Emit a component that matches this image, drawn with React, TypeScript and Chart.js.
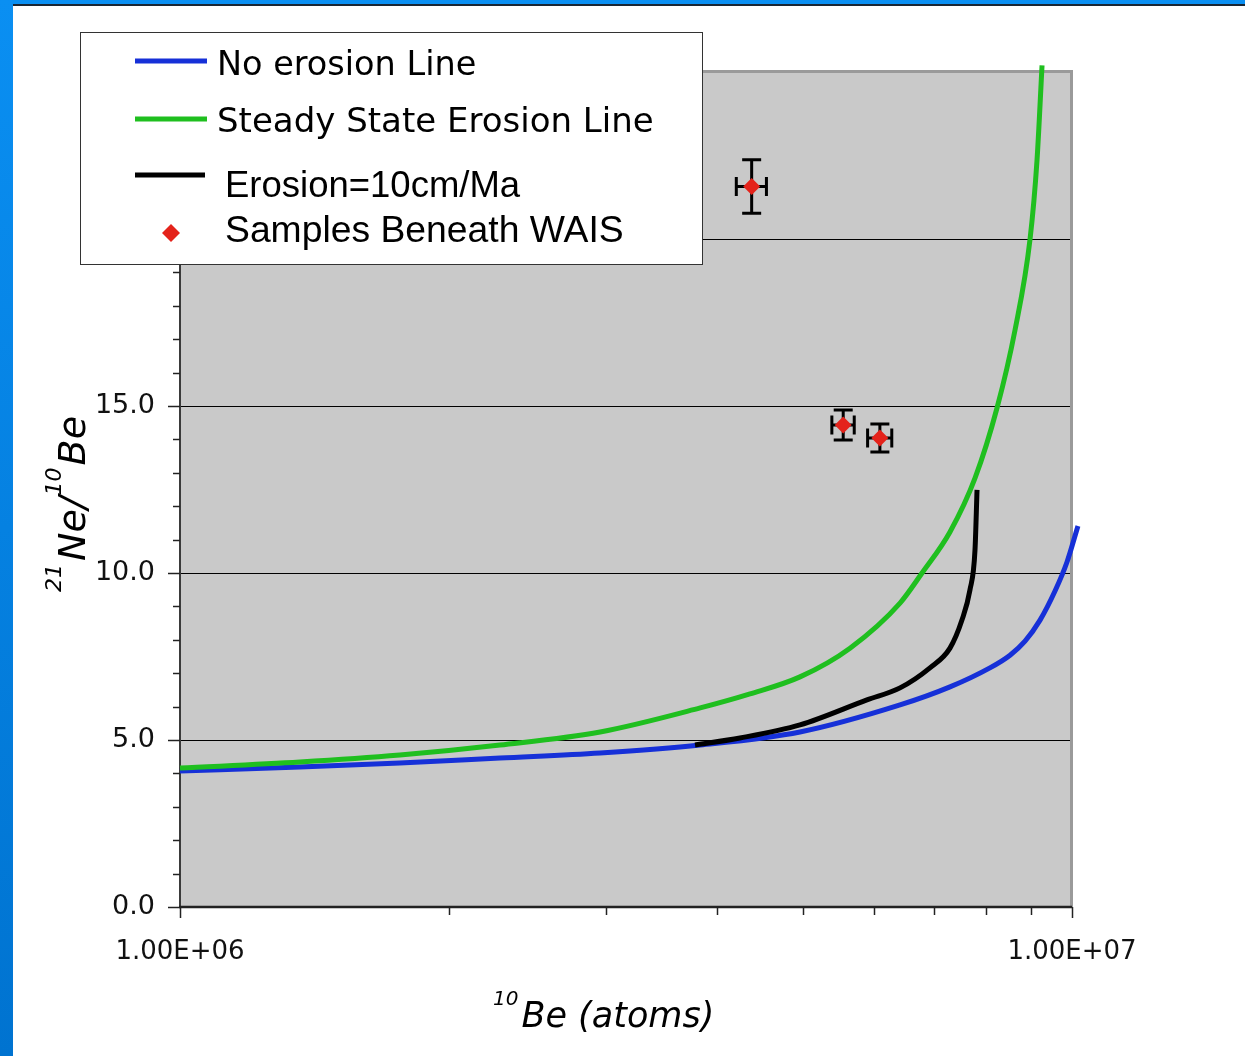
import React, { useEffect, useRef } from "react";
import { Chart, registerables } from "chart.js";
Chart.register(...registerables);

// ---- data ----
const noErosionX = [1.0e6, 1.363e6, 1.764e6, 2.284e6, 2.958e6, 3.83e6, 4.955e6, 6.415e6, 7.298e6, 8.09e6, 8.522e6, 8.858e6, 9.208e6, 9.571e6, 9.872e6, 1.0155e7];
const noErosionY = [4.07, 4.19, 4.31, 4.46, 4.61, 4.85, 5.24, 6.05, 6.59, 7.16, 7.54, 7.96, 8.59, 9.46, 10.33, 11.41];

const steadyX = [1.0e6, 1.363e6, 1.764e6, 2.284e6, 2.958e6, 3.83e6, 4.355e6, 4.955e6, 5.638e6, 6.415e6, 6.79e6, 7.298e6, 7.785e6, 8.24e6, 8.633e6, 8.974e6, 9.137e6, 9.256e6];
const steadyY = [4.16, 4.34, 4.55, 4.85, 5.24, 5.96, 6.38, 6.89, 7.75, 9.1, 10.0, 11.23, 12.84, 14.94, 17.28, 20.0, 22.37, 25.2];

const erosion10X = [3.779e6, 4.244e6, 4.955e6, 5.89e6, 6.415e6, 6.93e6, 7.298e6, 7.527e6, 7.684e6, 7.785e6, 7.826e6];
const erosion10Y = [4.85, 5.06, 5.45, 6.2, 6.56, 7.16, 7.75, 8.59, 9.49, 10.69, 12.49];

const sampleX = [4.374e6, 5.54e6, 6.09e6];
const sampleY = [21.57, 14.43, 14.04];
const sampleXErr = [0.17e6, 0.16e6, 0.19e6];
const sampleYErr = [0.8, 0.45, 0.42];

const legendLabels = ["No erosion Line", "Steady State Erosion Line", "Erosion=10cm/Ma", "Samples Beneath WAIS"];
const xMajorTicks = [1e6, 1e7];
const xTickLabels = ["1.00E+06", "1.00E+07"];
const xMinorTicks = [2e6, 3e6, 4e6, 5e6, 6e6, 7e6, 8e6, 9e6];
const yGridValues = [5, 10, 15, 20];
const yMin = 0;
const yMax = 25;
const yStep = 5;

const BLUE = "#1630d8";
const GREEN = "#1fbf1f";
const BLACK = "#000000";
const RED = "#e4231b";

const toPts = (xs: number[], ys: number[]) => xs.map((x, i) => ({ x, y: ys[i] }));

const decor = {
  id: "decor",
  beforeDraw(chart: any) {
    const { ctx, chartArea: a } = chart;
    ctx.save();
    ctx.fillStyle = "#c9c9c9";
    ctx.fillRect(a.left, a.top, a.right - a.left, a.bottom - a.top);
    ctx.restore();
  },
  beforeDatasetsDraw(chart: any) {
    const { ctx, chartArea: a, scales } = chart;
    const x = scales.x;
    const y = scales.y;
    ctx.save();
    // gridlines
    ctx.strokeStyle = "#000";
    ctx.lineWidth = 1;
    yGridValues.forEach((v) => {
      const p = Math.round(y.getPixelForValue(v)) + 0.5;
      ctx.beginPath();
      ctx.moveTo(a.left, p);
      ctx.lineTo(a.right, p);
      ctx.stroke();
    });
    // top / right border
    ctx.strokeStyle = "#9a9a9a";
    ctx.lineWidth = 3;
    ctx.beginPath();
    ctx.moveTo(a.left, a.top - 0.5);
    ctx.lineTo(a.right - 0.5, a.top - 0.5);
    ctx.lineTo(a.right - 0.5, a.bottom);
    ctx.stroke();
    // left axis
    ctx.strokeStyle = "#3a3a3a";
    ctx.lineWidth = 2;
    ctx.beginPath();
    ctx.moveTo(a.left, a.top);
    ctx.lineTo(a.left, a.bottom + 1);
    ctx.stroke();
    // bottom axis
    ctx.strokeStyle = "#222";
    ctx.lineWidth = 2.5;
    ctx.beginPath();
    ctx.moveTo(a.left - 1, a.bottom);
    ctx.lineTo(a.right, a.bottom);
    ctx.stroke();
    // y ticks
    ctx.strokeStyle = "#222";
    ctx.lineWidth = 1.5;
    for (let v = yMin; v <= yMax; v += 1) {
      const p = Math.round(y.getPixelForValue(v)) + 0.5;
      const len = v % yStep === 0 ? 12 : 7;
      ctx.beginPath();
      ctx.moveTo(a.left - len, p);
      ctx.lineTo(a.left, p);
      ctx.stroke();
    }
    // x ticks
    const xt = (v: number, len: number) => {
      const p = Math.round(x.getPixelForValue(v)) + 0.5;
      ctx.beginPath();
      ctx.moveTo(p, a.bottom);
      ctx.lineTo(p, a.bottom + len);
      ctx.stroke();
    };
    xMajorTicks.forEach((v) => xt(v, 11));
    xMinorTicks.forEach((v) => xt(v, 8));
    // error bars
    ctx.strokeStyle = "#000";
    ctx.lineWidth = 3;
    const cap = 9.5;
    sampleX.forEach((sx, i) => {
      const px = x.getPixelForValue(sx);
      const py = y.getPixelForValue(sampleY[i]);
      const x1 = x.getPixelForValue(sx - sampleXErr[i]);
      const x2 = x.getPixelForValue(sx + sampleXErr[i]);
      const y1 = y.getPixelForValue(sampleY[i] + sampleYErr[i]);
      const y2 = y.getPixelForValue(sampleY[i] - sampleYErr[i]);
      ctx.beginPath();
      ctx.moveTo(px, y1); ctx.lineTo(px, y2);
      ctx.moveTo(px - cap, y1); ctx.lineTo(px + cap, y1);
      ctx.moveTo(px - cap, y2); ctx.lineTo(px + cap, y2);
      ctx.moveTo(x1, py); ctx.lineTo(x2, py);
      ctx.moveTo(x1, py - cap); ctx.lineTo(x1, py + cap);
      ctx.moveTo(x2, py - cap); ctx.lineTo(x2, py + cap);
      ctx.stroke();
    });
    ctx.restore();
  },
  afterDraw(chart: any) {
    const { ctx, chartArea: a } = chart;
    ctx.save();
    // ---- axis titles ----
    ctx.fillStyle = "#000";
    ctx.textBaseline = "alphabetic";
    ctx.textAlign = "left";
    // x title
    let tx = a.left + 313;
    const ty = a.bottom + 120;
    ctx.font = "italic 20px 'DejaVu Sans'";
    ctx.fillText("10", tx, ty - 22);
    tx += ctx.measureText("10").width + 3;
    ctx.font = "italic 35px 'DejaVu Sans'";
    ctx.fillText("Be (atoms)", tx, ty);
    // y title
    ctx.save();
    ctx.translate(a.left - 95, a.top + 520);
    ctx.rotate(-Math.PI / 2);
    const ybig = "italic 38px 'DejaVu Sans'";
    const ysup = "italic 22px 'DejaVu Sans'";
    let rx = 0;
    ctx.font = ysup;
    ctx.fillText("21", rx, -24);
    rx += ctx.measureText("21").width + 3;
    ctx.font = ybig;
    ctx.fillText("Ne/", rx, 0);
    rx += ctx.measureText("Ne/").width + 1;
    ctx.font = ysup;
    ctx.fillText("10", rx, -24);
    rx += ctx.measureText("10").width + 2;
    ctx.font = ybig;
    ctx.fillText("Be", rx, 0);
    ctx.restore();

    // ---- legend box ----
    const lx = 80.5, ly = 32.5, lw = 622, lh = 232;
    ctx.fillStyle = "#fff";
    ctx.fillRect(lx, ly, lw, lh);
    ctx.strokeStyle = "#333";
    ctx.lineWidth = 1;
    ctx.strokeRect(lx, ly, lw, lh);
    const sample = (color: string, yy: number, x2: number) => {
      ctx.strokeStyle = color;
      ctx.lineWidth = 5;
      ctx.beginPath();
      ctx.moveTo(135, yy);
      ctx.lineTo(x2, yy);
      ctx.stroke();
    };
    sample(BLUE, 61, 207);
    sample(GREEN, 119, 207);
    sample(BLACK, 175, 205);
    // diamond
    ctx.fillStyle = RED;
    ctx.beginPath();
    ctx.moveTo(171, 224);
    ctx.lineTo(180, 233);
    ctx.lineTo(171, 242);
    ctx.lineTo(162, 233);
    ctx.closePath();
    ctx.fill();
    ctx.fillStyle = "#000";
    ctx.font = "33.5px 'DejaVu Sans'";
    ctx.fillText(legendLabels[0], 217, 75);
    ctx.font = "34px 'DejaVu Sans'";
    ctx.fillText(legendLabels[1], 217, 132);
    ctx.font = "36.5px 'Liberation Sans'";
    ctx.fillText(legendLabels[2], 225, 197);
    ctx.font = "37.3px 'Liberation Sans'";
    ctx.fillText(legendLabels[3], 225, 242);
    ctx.restore();
  },
};

export default function App() {
  const ref = useRef<HTMLCanvasElement>(null);
  useEffect(() => {
    const lineDs = (label: string, xs: number[], ys: number[], color: string, order: number) => ({
      label,
      data: toPts(xs, ys),
      showLine: true,
      borderColor: color,
      borderWidth: 5,
      pointRadius: 0,
      cubicInterpolationMode: "monotone",
      clip: false,
      order,
    });
    const chart = new Chart(ref.current as HTMLCanvasElement, {
      type: "scatter",
      data: {
        datasets: [
          {
            label: legendLabels[3],
            data: toPts(sampleX, sampleY),
            pointStyle: "rectRot",
            pointRadius: 8.5,
            backgroundColor: RED,
            borderColor: RED,
            borderWidth: 0,
            showLine: false,
            order: 0,
          },
          lineDs(legendLabels[2], erosion10X, erosion10Y, BLACK, 1),
          lineDs(legendLabels[1], steadyX, steadyY, GREEN, 2),
          lineDs(legendLabels[0], noErosionX, noErosionY, BLUE, 3),
        ] as any,
      },
      options: {
        responsive: false,
        animation: false,
        events: [],
        layout: { padding: { top: 72, right: 173, bottom: 69, left: 0 } },
        plugins: { legend: { display: false }, tooltip: { enabled: false }, title: { display: false } },
        scales: {
          x: {
            type: "logarithmic",
            min: xMajorTicks[0],
            max: xMajorTicks[xMajorTicks.length - 1],
            grid: { display: false },
            border: { display: false },
            afterBuildTicks: (s: any) => {
              s.ticks = xMajorTicks.map((v) => ({ value: v }));
            },
            afterFit: (s: any) => {
              s.height = 80;
            },
            ticks: {
              autoSkip: false,
              maxRotation: 0,
              padding: 22,
              color: "#111",
              font: { family: "'DejaVu Sans'", size: 26 },
              callback: (v: any) => {
                const i = xMajorTicks.findIndex((t) => Math.abs(t - Number(v)) / t < 1e-6);
                return i >= 0 ? xTickLabels[i] : "";
              },
            },
          },
          y: {
            type: "linear",
            min: yMin,
            max: yMax,
            grid: { display: false },
            border: { display: false },
            afterFit: (s: any) => {
              s.width = 180;
            },
            ticks: {
              stepSize: yStep,
              padding: 17,
              color: "#111",
              font: { family: "'DejaVu Sans'", size: 27 },
              callback: (v: any) => Number(v).toFixed(1),
            },
          },
        } as any,
      },
      plugins: [decor],
    });
    return () => chart.destroy();
  }, []);

  return (
    <div style={{ position: "absolute", left: 0, top: 0, width: 1245, height: 1056, background: "#fff", overflow: "hidden" }}>
      <div style={{ position: "absolute", left: 0, top: 0, width: 1245, height: 4, background: "#0a8ff2" }} />
      <div style={{ position: "absolute", left: 13, top: 4, width: 1232, height: 2, background: "#1a2633" }} />
      <div style={{ position: "absolute", left: 0, top: 0, width: 13, height: 1056, background: "linear-gradient(#0a8ff2, #0073d0)" }} />
      <canvas ref={ref} width={1245} height={1056} style={{ position: "absolute", left: 0, top: 0 }} />
    </div>
  );
}
